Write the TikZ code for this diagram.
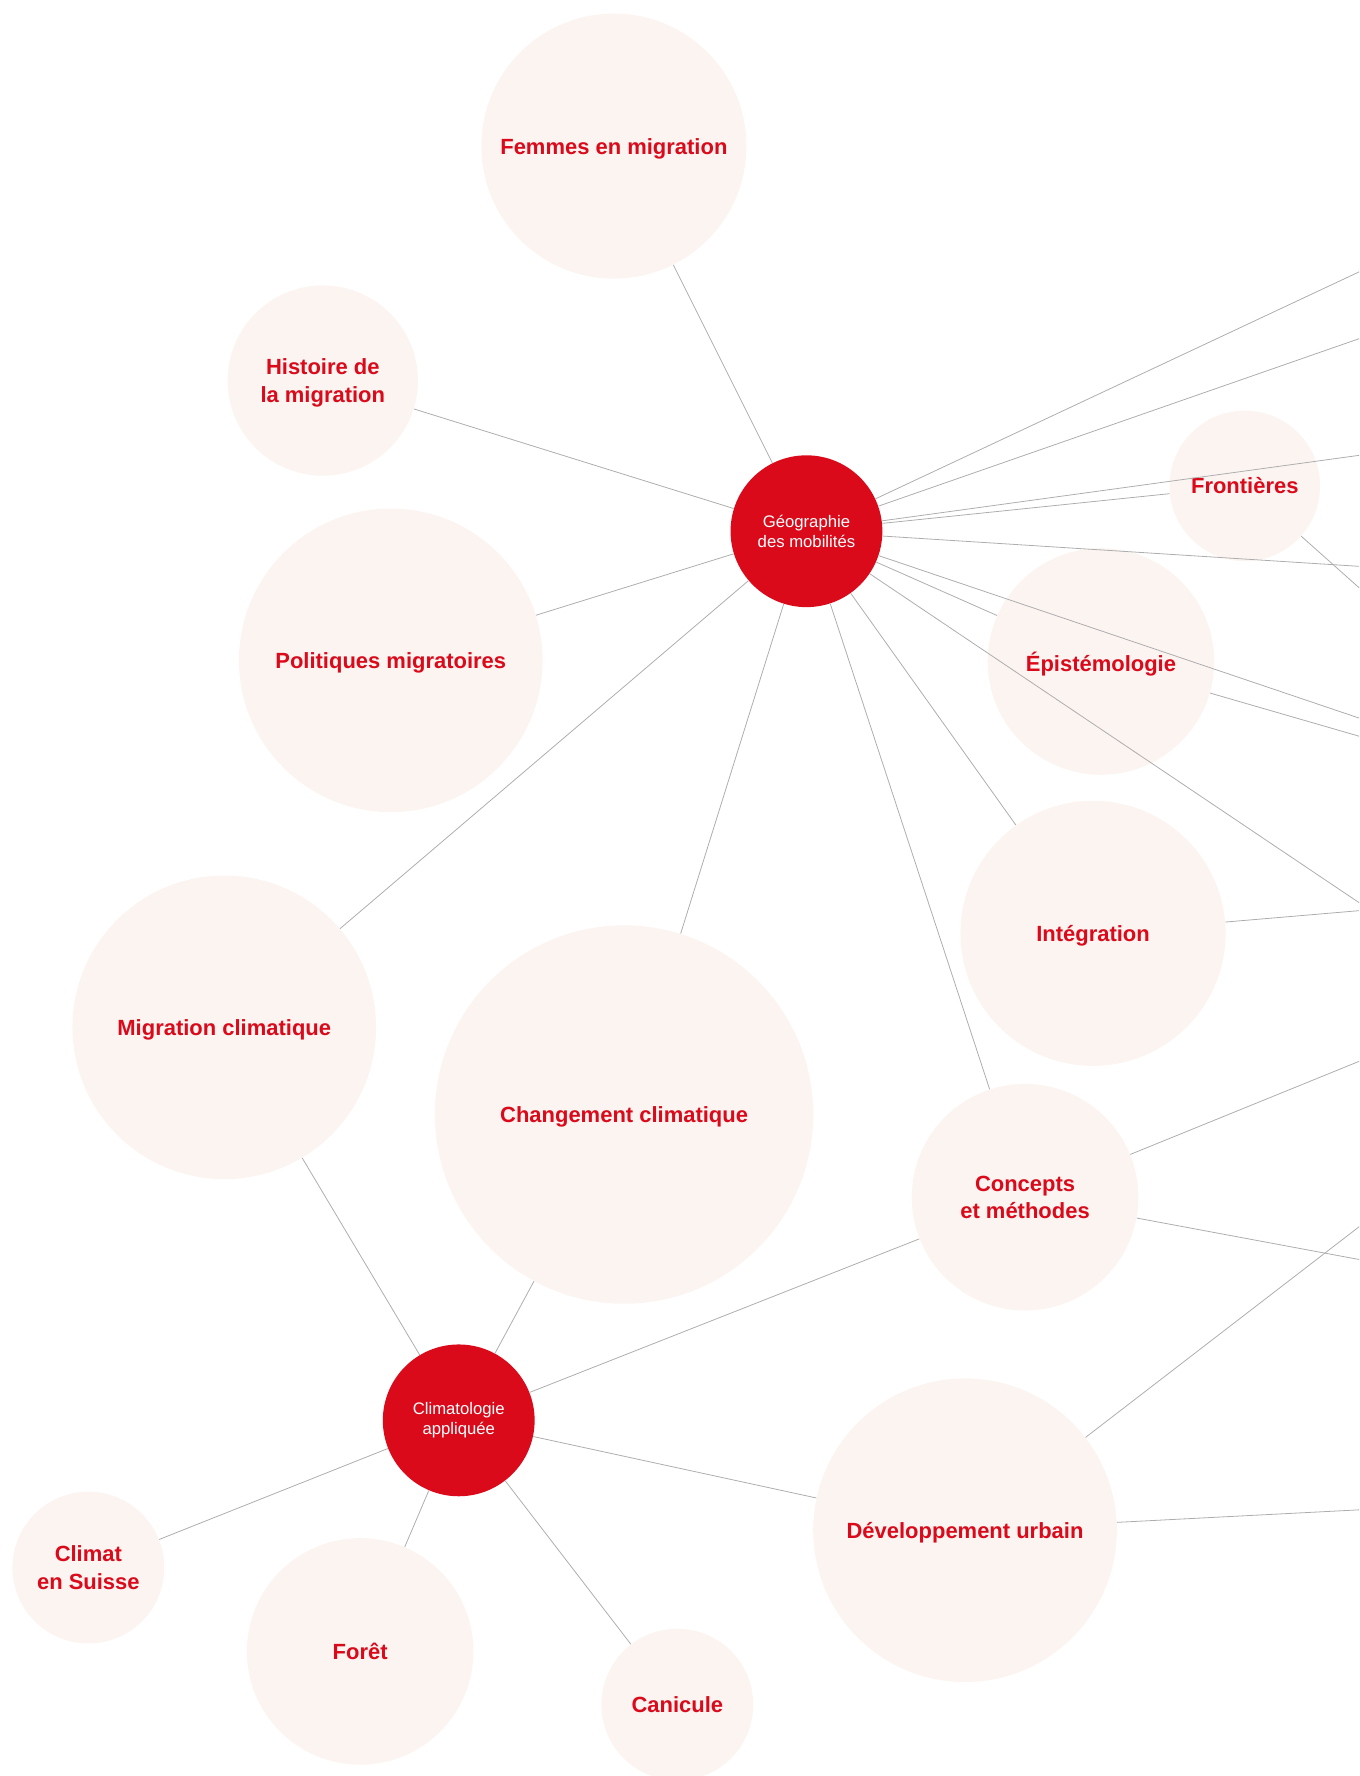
\documentclass[tikz,border=0pt]{standalone}
\usepackage{fontspec}
\setmainfont{Liberation Sans}

\definecolor{unired}{HTML}{DA0A1B}
\definecolor{bubble}{HTML}{FCF4F1}
\definecolor{wire}{HTML}{ADADAD}

\begin{document}
\begin{tikzpicture}[x=0.02265cm, y=-0.02265cm,
  topic/.style={circle, fill=bubble, text=unired, inner sep=0pt, align=center,
    font=\fontsize{12.5}{15.5}\selectfont\bfseries, text depth=0pt, minimum size=#1},
  hub/.style={circle, fill=unired, text=white, inner sep=0pt, align=center,
    font=\fontsize{9.5}{11.6}\selectfont, minimum size=3.035cm},
  link/.style={draw=wire, line width=0.45pt}]

\useasboundingbox (0,0) rectangle (1200,1568);

% Hubs
\node[hub] (geo) at (712,469) {Géographie\\des mobilités};
\node[hub] (clim) at (405,1254) {Climatologie\\appliquée};

% Topics near Géographie des mobilités
\node[topic=5.30cm] (femmes) at (542,129) {Femmes en migration};
\node[topic=3.805cm] (histoire) at (285,336) {Histoire de\\la migration};
\node[topic=6.07cm] (politiques) at (345,583) {Politiques migratoires};
\node[topic=3.01cm] (frontieres) at (1099,429) {Frontières};
\node[topic=4.53cm] (episte) at (972,584) {Épistémologie};
\node[topic=5.30cm] (integration) at (965,824) {Intégration};
\node[topic=4.53cm] (concepts) at (905,1057) {Concepts\\et méthodes};

% Topics near Climatologie appliquée
\node[topic=6.07cm] (migclim) at (198,907) {Migration climatique};
\node[topic=7.565cm] (changement) at (551,984) {Changement climatique};
\node[topic=6.07cm] (devurb) at (852,1351) {Développement urbain};
\node[topic=3.035cm] (suisse) at (78,1384) {Climat\\en Suisse};
\node[topic=4.53cm] (foret) at (318,1458) {Forêt};
\node[topic=3.035cm] (canicule) at (598,1505) {Canicule};

% Ends of links leaving the page
\coordinate (geoout1) at (1200,240);
\coordinate (geoout2) at (1200,299);
\coordinate (geoout3) at (1200,402);
\coordinate (geoout4) at (1200,500);
\coordinate (geoout5) at (1200,634);
\coordinate (geoout6) at (1200,797);
\coordinate (frontout) at (1200,519);
\coordinate (episteout) at (1200,650);
\coordinate (integout) at (1200,804);
\coordinate (conceptout1) at (1200,937);
\coordinate (conceptout2) at (1200,1112);
\coordinate (devout1) at (1200,1083);
\coordinate (devout2) at (1200,1333);

% Links
\foreach \t in {femmes, histoire, politiques, migclim, changement, concepts,
    integration, episte, frontieres,
    geoout1, geoout2, geoout3, geoout4, geoout5, geoout6}
  \draw[link] (geo) -- (\t);
\foreach \t in {migclim, changement, concepts, devurb, suisse, foret, canicule}
  \draw[link] (clim) -- (\t);
\draw[link] (frontieres) -- (frontout);
\draw[link] (episte) -- (episteout);
\draw[link] (integration) -- (integout);
\draw[link] (concepts) -- (conceptout1);
\draw[link] (concepts) -- (conceptout2);
\draw[link] (devurb) -- (devout1);
\draw[link] (devurb) -- (devout2);

\end{tikzpicture}
\end{document}
